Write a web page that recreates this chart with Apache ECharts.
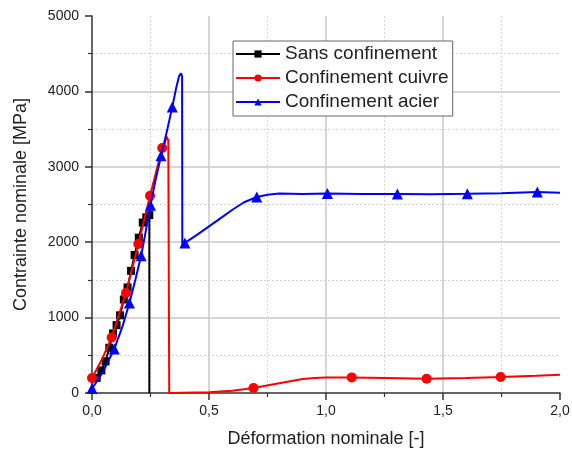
<!DOCTYPE html>
<html>
<head>
<meta charset="utf-8">
<script src="https://cdn.jsdelivr.net/npm/echarts@6/dist/echarts.min.js"></script>
<style>html,body{margin:0;padding:0;background:#fff;}#c{width:572px;height:454px;}</style>
</head>
<body>
<div id="c"></div>
<script>
// ---- data ----
const seriesNames = ['Sans confinement', 'Confinement cuivre', 'Confinement acier'];

const blackX = [0, 0.02, 0.04, 0.058, 0.074, 0.09, 0.105, 0.12, 0.136, 0.152, 0.167, 0.182, 0.2, 0.217, 0.232, 0.245, 0.245];
const blackY = [130, 200, 300, 420, 600, 790, 900, 1030, 1240, 1400, 1620, 1830, 2060, 2260, 2330, 2360, 0];
const blackMarkers = [1, 2, 3, 4, 5, 6, 7, 8, 9, 10, 11, 12, 13, 14, 15];

const redX = [0, 0.04, 0.084, 0.145, 0.198, 0.248, 0.30, 0.31, 0.319, 0.326, 0.33, 0.5, 0.6, 0.69, 0.8, 0.9, 0.95, 1.0, 1.11, 1.25, 1.43, 1.6, 1.746, 1.9, 2.0];
const redY = [200, 430, 737, 1326, 1976, 2616, 3249, 3300, 3400, 3350, 0, 10, 30, 66, 130, 185, 200, 205, 207, 200, 190, 200, 212, 230, 243];
const redMarkers = [0, 2, 3, 4, 5, 6, 13, 18, 20, 22];

const blueX = [0, 0.02, 0.05, 0.095, 0.13, 0.16, 0.185, 0.21, 0.23, 0.25, 0.27, 0.295, 0.32, 0.343, 0.36, 0.372, 0.38, 0.385, 0.386, 0.397, 0.45, 0.5, 0.55, 0.6, 0.65, 0.704, 0.75, 0.8, 0.9, 1.006, 1.15, 1.305, 1.45, 1.604, 1.75, 1.903, 2.0];
const blueY = [60, 150, 300, 583, 880, 1193, 1500, 1820, 2150, 2490, 2800, 3147, 3470, 3792, 4050, 4200, 4240, 4200, 1930, 1990, 2100, 2210, 2320, 2430, 2530, 2600, 2630, 2645, 2640, 2645, 2640, 2640, 2635, 2642, 2650, 2665, 2655];
const blueMarkers = [0, 3, 5, 7, 9, 11, 13, 19, 25, 29, 31, 33, 35];

const xTicks = [0, 0.5, 1.0, 1.5, 2.0];
const yTicks = [0, 1000, 2000, 3000, 4000, 5000];

// ---- build ----
function build(xs, ys, marks) {
  return xs.map((x, i) => marks.indexOf(i) >= 0 ? [x, ys[i]] : { value: [x, ys[i]], symbol: 'none' });
}
const FONT = '"Liberation Sans", Arial, sans-serif';
const chart = echarts.init(document.getElementById('c'), null, { renderer: 'canvas' });

const axisCommon = {
  axisLine: { show: true, onZero: false, lineStyle: { color: '#333', width: 1.5 } },
  axisTick: { show: true, inside: false, length: 7, lineStyle: { color: '#333', width: 1.5 } },
  minorTick: { show: true, splitNumber: 2, length: 4, lineStyle: { color: '#333', width: 1.2 } },
  splitLine: { show: true, showMaxLine: false, showMinLine: false, lineStyle: { color: '#c8c8c8', width: 1.5 } },
  minorSplitLine: { show: true, lineStyle: { color: '#d4d4d4', width: 1, type: [2, 2] } },
  axisLabel: { color: '#222', fontSize: 14, fontFamily: FONT },
  nameLocation: 'middle',
  nameTextStyle: { color: '#222', fontSize: 18, fontFamily: FONT }
};

chart.setOption({
  animation: false,
  backgroundColor: '#fff',
  grid: { left: 92, right: 12, top: 16, bottom: 61, containLabel: false, outerBoundsMode: 'none' },
  legend: {
    orient: 'vertical',
    left: 233, top: 41,
    data: seriesNames,
    itemWidth: 44, itemHeight: 9, itemGap: 4,
    padding: [3, 4, 4, 2],
    borderColor: '#666', borderWidth: 1, backgroundColor: '#fff',
    textStyle: { color: '#222', fontSize: 19, lineHeight: 20, fontFamily: FONT }
  },
  xAxis: Object.assign({}, axisCommon, {
    type: 'value', min: xTicks[0], max: xTicks[xTicks.length - 1], interval: xTicks[1] - xTicks[0],
    name: 'Déformation nominale [-]', nameGap: 37,
    axisLabel: Object.assign({}, axisCommon.axisLabel, { margin: 11, formatter: v => v.toFixed(1).replace('.', ',') })
  }),
  yAxis: Object.assign({}, axisCommon, {
    type: 'value', min: yTicks[0], max: yTicks[yTicks.length - 1], interval: yTicks[1] - yTicks[0],
    name: 'Contrainte nominale [MPa]', nameGap: 62,
    axisLabel: Object.assign({}, axisCommon.axisLabel, { margin: 13, formatter: v => String(v) })
  }),
  series: [
    { name: seriesNames[0], type: 'line', data: build(blackX, blackY, blackMarkers), symbol: 'rect', symbolSize: 8,
      showAllSymbol: true, color: '#000', lineStyle: { width: 2, color: '#000' }, itemStyle: { color: '#000' }, z: 2 },
    { name: seriesNames[1], type: 'line', data: build(redX, redY, redMarkers), symbol: 'circle', symbolSize: 10,
      showAllSymbol: true, color: '#ff0000', lineStyle: { width: 2, color: '#ff0000' }, itemStyle: { color: '#ff0000' }, z: 3 },
    { name: seriesNames[2], type: 'line', data: build(blueX, blueY, blueMarkers), symbol: 'triangle', symbolSize: 11,
      showAllSymbol: true, color: '#0000ff', lineStyle: { width: 2, color: '#0000ff' }, itemStyle: { color: '#0000ff' }, z: 4 }
  ]
});
</script>
</body>
</html>
